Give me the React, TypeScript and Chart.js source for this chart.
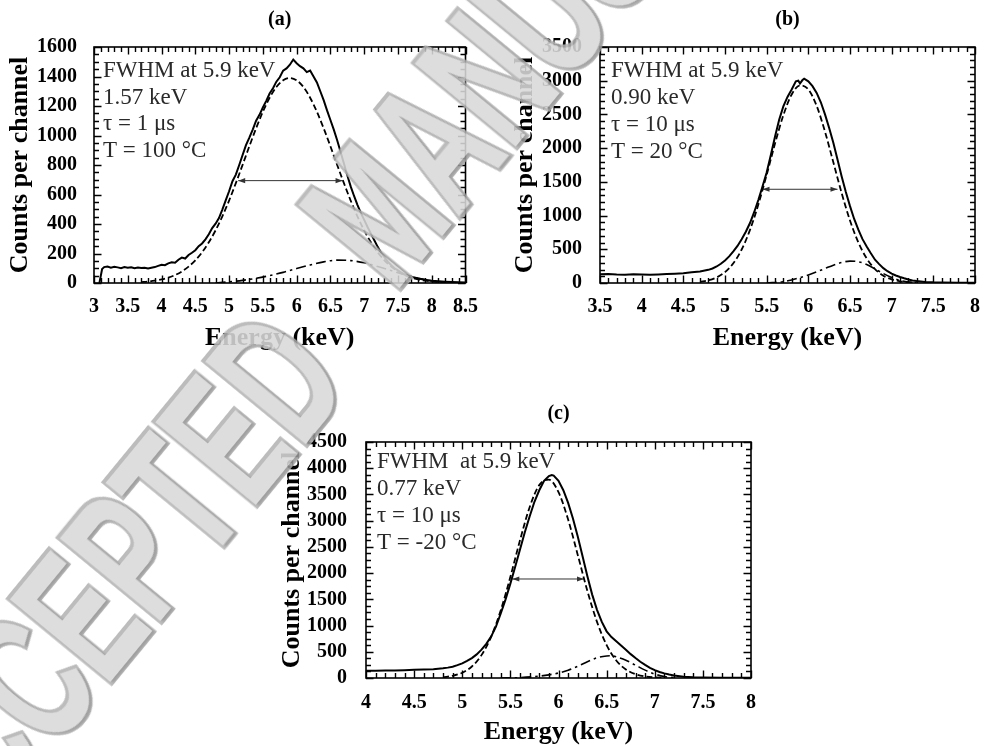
import React, { useEffect, useRef } from 'react';
import { Chart, registerables } from 'chart.js';

Chart.register(...registerables);

// ---------------- Panel (a): tau = 1 us, T = 100 C ----------------
const aMeasE = [3.08,3.12,3.15,3.2,3.25,3.3,3.35,3.4,3.45,3.5,3.55,3.6,3.65,3.7,3.75,3.8,3.85,3.9,3.95,4.0,4.05,4.1,4.15,4.2,4.25,4.3,4.35,4.4,4.45,4.5,4.55,4.6,4.65,4.7,4.75,4.8,4.85,4.9,4.95,5.0,5.05,5.1,5.15,5.2,5.25,5.3,5.35,5.4,5.45,5.5,5.55,5.6,5.65,5.7,5.75,5.8,5.85,5.9,5.95,6.0,6.05,6.1,6.15,6.2,6.25,6.3,6.35,6.4,6.45,6.5,6.55,6.6,6.65,6.7,6.75,6.8,6.85,6.9,6.95,7.0,7.05,7.1,7.15,7.2,7.25,7.3,7.35,7.4,7.45,7.5,7.55,7.6,7.7,7.8,7.9,8.0,8.1,8.2,8.3,8.4,8.5];
const aMeasC = [0,95,108,112,104,110,106,101,108,103,107,100,105,101,104,98,103,108,116,124,121,133,140,137,158,172,166,190,205,222,250,268,296,330,372,402,440,498,560,622,690,735,800,868,935,985,1040,1100,1140,1190,1235,1285,1320,1365,1395,1440,1455,1480,1515,1490,1470,1455,1430,1440,1400,1360,1300,1240,1170,1105,1040,968,890,810,730,655,590,530,475,428,380,335,290,245,205,176,145,120,100,86,70,58,42,30,22,16,12,9,7,5,4];
const aFitE = [3.7,3.8,3.9,4.0,4.1,4.2,4.3,4.4,4.5,4.6,4.7,4.8,4.9,5.0,5.1,5.2,5.3,5.4,5.5,5.6,5.7,5.8,5.9,6.0,6.1,6.2,6.3,6.4,6.5,6.6,6.7,6.8,6.9,7.0,7.1,7.2,7.3,7.4,7.5,7.6,7.7,7.8,7.9,8.0,8.1,8.2];
const aFitC = [6,10,16,24,36,54,78,111,154,208,276,357,452,559,677,801,927,1049,1161,1256,1329,1374,1390,1374,1329,1256,1161,1049,927,801,677,559,452,357,276,208,154,111,78,54,36,24,16,10,6,4];
const aTailE = [4.8,5.0,5.2,5.4,5.6,5.8,6.0,6.2,6.4,6.6,6.8,7.0,7.2,7.4,7.6,7.8,8.0,8.2];
const aTailC = [0,8,18,32,50,72,98,122,143,155,152,137,112,84,56,32,14,4];
const aFwhmE = [5.135, 6.68];
const aFwhmLevel = 694;
const aNotes = ['FWHM at 5.9 keV', '1.57 keV', 'τ = 1 μs', 'T = 100 °C'];
const aXRange = [3, 8.5];
const aYRange = [0, 1600];
const aYStep = 200;

// ---------------- Panel (b): tau = 10 us, T = 20 C ----------------
const bMeasE = [3.5,3.6,3.7,3.8,3.9,4.0,4.1,4.2,4.3,4.4,4.5,4.6,4.7,4.8,4.85,4.9,4.95,5.0,5.05,5.1,5.15,5.2,5.25,5.3,5.35,5.4,5.45,5.5,5.55,5.6,5.65,5.7,5.75,5.8,5.85,5.88,5.9,5.93,5.95,6.0,6.05,6.1,6.15,6.2,6.25,6.3,6.35,6.4,6.45,6.5,6.55,6.6,6.65,6.7,6.75,6.8,6.85,6.9,6.95,7.0,7.05,7.1,7.15,7.2,7.25,7.3,7.4,7.5,7.6,7.8,8.0];
const bMeasC = [128,132,126,124,128,125,122,127,132,138,145,158,172,195,215,245,285,335,395,470,550,650,760,890,1050,1230,1430,1640,1900,2170,2420,2620,2760,2870,2990,3000,2960,3010,3030,2990,2920,2820,2680,2500,2300,2080,1830,1580,1350,1140,950,790,650,540,440,345,280,220,175,140,112,90,70,52,38,28,16,10,7,5,4];
const bFitE = [4.7,4.8,4.9,5.0,5.1,5.2,5.3,5.4,5.5,5.6,5.7,5.8,5.9,6.0,6.1,6.2,6.3,6.4,6.5,6.6,6.7,6.8,6.9,7.0,7.1,7.2,7.3];
const bFitC = [18,40,83,162,293,497,787,1163,1604,2067,2487,2795,2932,2872,2627,2244,1790,1333,927,602,365,207,109,54,25,11,4];
const bTailE = [5.5,5.7,5.8,5.9,6.0,6.1,6.2,6.3,6.4,6.5,6.6,6.7,6.8,6.9,7.0,7.1,7.2,7.3];
const bTailC = [0,20,45,80,120,165,215,265,305,325,315,275,210,140,80,38,14,4];
const bFwhmE = [5.45, 6.35];
const bFwhmLevel = 1390;
const bNotes = ['FWHM at 5.9 keV', '0.90 keV', 'τ = 10 μs', 'T = 20 °C'];
const bXRange = [3.5, 8];
const bYRange = [0, 3500];
const bYStep = 500;

// ---------------- Panel (c): tau = 10 us, T = -20 C ----------------
const cMeasE = [4.0,4.1,4.2,4.3,4.4,4.5,4.6,4.7,4.8,4.85,4.9,4.95,5.0,5.05,5.1,5.15,5.2,5.25,5.3,5.35,5.4,5.45,5.5,5.55,5.6,5.65,5.7,5.75,5.8,5.85,5.9,5.93,5.95,6.0,6.05,6.1,6.15,6.2,6.25,6.3,6.35,6.4,6.45,6.5,6.55,6.6,6.65,6.7,6.75,6.8,6.85,6.9,6.95,7.0,7.05,7.1,7.15,7.2,7.3,7.4,7.5,7.7,8.0];
const cMeasC = [140,138,142,145,150,155,160,168,185,198,215,245,280,325,380,450,540,650,790,980,1230,1500,1800,2120,2450,2780,3080,3360,3580,3760,3850,3870,3860,3760,3580,3340,3040,2700,2320,1940,1590,1300,1070,890,780,700,620,540,455,380,310,250,195,150,115,88,65,48,26,14,9,5,3];
const cFitE = [4.8,4.9,5.0,5.1,5.2,5.3,5.4,5.5,5.6,5.7,5.8,5.9,6.0,6.1,6.2,6.3,6.4,6.5,6.6,6.7,6.8,6.9,7.0,7.1];
const cFitC = [16,42,101,220,436,786,1290,1929,2626,3257,3678,3782,3543,3022,2347,1661,1070,628,335,163,72,29,11,4];
const cTailE = [5.4,5.6,5.8,5.9,6.0,6.1,6.2,6.3,6.4,6.5,6.55,6.6,6.7,6.8,6.9,7.0,7.1,7.2];
const cTailC = [0,8,35,60,95,150,225,310,385,420,425,405,340,245,150,75,28,8];
const cFwhmE = [5.52, 6.265];
const cFwhmLevel = 1888;
const cNotes = ['FWHM  at 5.9 keV', '0.77 keV', 'τ = 10 μs', 'T = -20 °C'];
const cXRange = [4, 8];
const cYRange = [0, 4500];
const cYStep = 500;

const xStep = 0.5;
const xMinorStep = 0.1;
const xTitle = 'Energy (keV)';
const yTitle = 'Counts per channel';

const SERIF = '"Liberation Serif", "Times New Roman", serif';

const zip = (xs: number[], ys: number[]) => xs.map((x, i) => ({ x, y: ys[i] }));
const fmt = (v: number) => String(Number(Number(v).toFixed(2)));

type Spec = {
  left: number; top: number; w: number; h: number;
  yAxisW: number; xAxisH: number; padTop: number; padRight: number;
  yTickPad: number; xTickPad: number; yTitlePad: number; xTitlePad: number;
  title: string; titleY: number; textDX: number; textDY: number; lineGap: number;
  yMinor: number;
  measE: number[]; measC: number[]; fitE: number[]; fitC: number[];
  tailE: number[]; tailC: number[]; fwhmE: number[]; fwhmLevel: number;
  notes: string[]; xRange: number[]; yRange: number[]; yStep: number;
};

function makeDecor(s: Spec) {
  return {
    id: 'decor',
    afterDraw(chart: any) {
      const ctx = chart.ctx;
      const a = chart.chartArea;
      const xs = chart.scales.x;
      const ys = chart.scales.y;
      ctx.save();
      ctx.setLineDash([]);
      // FWHM arrow heads
      const meta = chart.getDatasetMeta(3);
      if (meta && meta.data && meta.data.length === 2) {
        const p0 = meta.data[0];
        const p1 = meta.data[1];
        ctx.fillStyle = '#333';
        const head = (px: number, py: number, dir: number) => {
          ctx.beginPath();
          ctx.moveTo(px, py);
          ctx.lineTo(px - dir * 7, py - 2.6);
          ctx.lineTo(px - dir * 7, py + 2.6);
          ctx.closePath();
          ctx.fill();
        };
        head(p0.x, p0.y, -1);
        head(p1.x, p1.y, 1);
      }
      // inward ticks on all four sides
      ctx.strokeStyle = '#000';
      ctx.lineWidth = 1.4;
      const nx = Math.round((s.xRange[1] - s.xRange[0]) / xMinorStep);
      ctx.beginPath();
      for (let i = 0; i <= nx; i++) {
        const v = s.xRange[0] + i * xMinorStep;
        const px = Math.round(xs.getPixelForValue(v)) + 0.5;
        const r = v / xStep;
        const major = Math.abs(r - Math.round(r)) < 1e-6;
        const len = major ? 7.5 : 5;
        ctx.moveTo(px, a.bottom);
        ctx.lineTo(px, a.bottom - len);
        ctx.moveTo(px, a.top);
        ctx.lineTo(px, a.top + len);
      }
      const ny = Math.round((s.yRange[1] - s.yRange[0]) / s.yMinor);
      for (let i = 0; i <= ny; i++) {
        const v = s.yRange[0] + i * s.yMinor;
        const py = Math.round(ys.getPixelForValue(v)) + 0.5;
        const r = v / s.yStep;
        const major = Math.abs(r - Math.round(r)) < 1e-6;
        const len = major ? 7.5 : 5;
        ctx.moveTo(a.left, py);
        ctx.lineTo(a.left + len, py);
        ctx.moveTo(a.right, py);
        ctx.lineTo(a.right - len, py);
      }
      ctx.stroke();
      // frame
      ctx.lineWidth = 1.6;
      ctx.strokeRect(a.left, a.top, a.right - a.left, a.bottom - a.top);
      // annotation text
      ctx.fillStyle = '#2a2a2a';
      ctx.font = `23px ${SERIF}`;
      ctx.textAlign = 'left';
      ctx.textBaseline = 'middle';
      s.notes.forEach((t, i) => {
        ctx.fillText(t, a.left + s.textDX, a.top + s.textDY + i * s.lineGap);
      });
      // panel title
      ctx.fillStyle = '#000';
      ctx.font = `bold 20px ${SERIF}`;
      ctx.textAlign = 'center';
      ctx.fillText(s.title, (a.left + a.right) / 2, s.titleY);
      ctx.restore();
    },
  };
}

function buildConfig(s: Spec): any {
  const tickFont = { family: SERIF, size: 20, weight: 'bold' };
  const titleFont = { family: SERIF, size: 26, weight: 'bold', lineHeight: 1 };
  return {
    type: 'line',
    data: {
      datasets: [
        { label: 'measured', data: zip(s.measE, s.measC), borderColor: '#000', borderWidth: 2, pointRadius: 0, tension: 0, fill: false },
        { label: 'fit', data: zip(s.fitE, s.fitC), borderColor: '#000', borderWidth: 1.8, borderDash: [6, 3], pointRadius: 0, cubicInterpolationMode: 'monotone', fill: false },
        { label: 'tail', data: zip(s.tailE, s.tailC), borderColor: '#000', borderWidth: 1.6, borderDash: [10, 4, 2.5, 4], pointRadius: 0, cubicInterpolationMode: 'monotone', fill: false },
        { label: 'FWHM', data: s.fwhmE.map((x) => ({ x, y: s.fwhmLevel })), borderColor: '#333', borderWidth: 1, pointRadius: 0, fill: false },
      ],
    },
    options: {
      animation: false,
      responsive: false,
      maintainAspectRatio: false,
      events: [],
      layout: { padding: { top: s.padTop, right: s.padRight, left: 0, bottom: 0 } },
      scales: {
        x: {
          type: 'linear',
          min: s.xRange[0],
          max: s.xRange[1],
          grid: { display: false, drawTicks: false },
          border: { display: false },
          ticks: { stepSize: xStep, autoSkip: false, maxRotation: 0, color: '#000', font: tickFont, padding: s.xTickPad, callback: (v: number) => fmt(v) },
          title: { display: true, text: xTitle, color: '#000', font: titleFont, padding: { top: 0, bottom: s.xTitlePad } },
          afterFit: (sc: any) => { sc.height = s.xAxisH; },
        },
        y: {
          type: 'linear',
          min: s.yRange[0],
          max: s.yRange[1],
          grid: { display: false, drawTicks: false },
          border: { display: false },
          ticks: { stepSize: s.yStep, autoSkip: false, color: '#000', font: tickFont, padding: s.yTickPad, callback: (v: number) => fmt(v) },
          title: { display: true, text: yTitle, color: '#000', font: titleFont, padding: { top: s.yTitlePad, bottom: 0 } },
          afterFit: (sc: any) => { sc.width = s.yAxisW; },
        },
      },
      plugins: {
        legend: { display: false },
        tooltip: { enabled: false },
      },
    },
    plugins: [makeDecor(s)],
  };
}

const specA: Spec = {
  left: 0, top: 0, w: 490, h: 370,
  yAxisW: 94, xAxisH: 87, padTop: 47, padRight: 18,
  yTickPad: 17, xTickPad: 12, yTitlePad: 7, xTitlePad: 19,
  title: '(a)', titleY: 20, textDX: 9, textDY: 24, lineGap: 26.7, yMinor: 50,
  measE: aMeasE, measC: aMeasC, fitE: aFitE, fitC: aFitC, tailE: aTailE, tailC: aTailC,
  fwhmE: aFwhmE, fwhmLevel: aFwhmLevel, notes: aNotes, xRange: aXRange, yRange: aYRange, yStep: aYStep,
};

const specB: Spec = {
  left: 495, top: 0, w: 497, h: 370,
  yAxisW: 105, xAxisH: 87, padTop: 47, padRight: 7,
  yTickPad: 18, xTickPad: 12, yTitlePad: 17, xTitlePad: 19,
  title: '(b)', titleY: 20, textDX: 11, textDY: 24, lineGap: 27, yMinor: 100,
  measE: bMeasE, measC: bMeasC, fitE: bFitE, fitC: bFitC, tailE: bTailE, tailC: bTailC,
  fwhmE: bFwhmE, fwhmLevel: bFwhmLevel, notes: bNotes, xRange: bXRange, yRange: bYRange, yStep: bYStep,
};

const specC: Spec = {
  left: 250, top: 390, w: 520, h: 356,
  yAxisW: 116, xAxisH: 68, padTop: 52, padRight: 19,
  yTickPad: 19, xTickPad: 13, yTitlePad: 29, xTitlePad: 1,
  title: '(c)', titleY: 24, textDX: 11, textDY: 20, lineGap: 27, yMinor: 125,
  measE: cMeasE, measC: cMeasC, fitE: cFitE, fitC: cFitC, tailE: cTailE, tailC: cTailC,
  fwhmE: cFwhmE, fwhmLevel: cFwhmLevel, notes: cNotes, xRange: cXRange, yRange: cYRange, yStep: cYStep,
};

function Panel({ spec }: { spec: Spec }) {
  const ref = useRef<HTMLCanvasElement>(null);
  useEffect(() => {
    if (!ref.current) return;
    const chart = new Chart(ref.current, buildConfig(spec));
    return () => chart.destroy();
  }, [spec]);
  return (
    <canvas
      ref={ref}
      width={spec.w}
      height={spec.h}
      style={{ position: 'absolute', left: spec.left, top: spec.top, width: spec.w, height: spec.h }}
    />
  );
}

const wmBase: React.CSSProperties = {
  position: 'absolute',
  margin: 0,
  whiteSpace: 'nowrap',
  fontFamily: '"Liberation Sans", Arial, sans-serif',
  fontWeight: 'bold',
  fontSize: 190,
  lineHeight: '190px',
  color: '#d9d9d9',
  WebkitTextStroke: '8px #b3b3b3',
  paintOrder: 'stroke fill',
  textShadow: '2px 3px 3px rgba(0,0,0,0.18)',
  transformOrigin: '0 0',
  transform: 'rotate(-50.6deg) scaleX(0.62)',
  opacity: 0.88,
  pointerEvents: 'none',
};

export default function App() {
  return (
    <div style={{ position: 'absolute', left: 0, top: 0, width: 992, height: 746, overflow: 'hidden', background: '#fff' }}>
      <Panel spec={specA} />
      <Panel spec={specB} />
      <Panel spec={specC} />
      <div style={{ ...wmBase, left: -181, top: 783 }}>ACCEPTED</div>
      <div style={{ ...wmBase, left: 270, top: 192 }}>MANUSCRIPT</div>
    </div>
  );
}
